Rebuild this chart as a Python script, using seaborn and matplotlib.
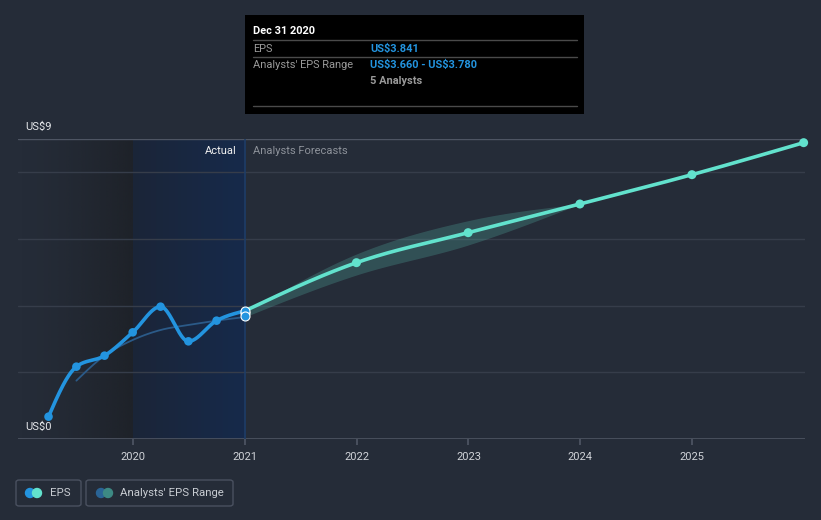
import numpy as np
import pandas as pd
import matplotlib
matplotlib.use("Agg")
import matplotlib.pyplot as plt
import matplotlib.dates as mdates
from matplotlib.patches import Rectangle, FancyBboxPatch, Circle
import seaborn as sns

# ---------------- data ----------------
actual_dates = ["2019-03-31", "2019-06-30", "2019-09-30", "2019-12-31",
                "2020-03-31", "2020-06-30", "2020-09-30", "2020-12-31"]
actual_eps = [0.67, 2.17, 2.50, 3.20, 3.97, 2.93, 3.55, 3.841]

past_est_dates = ["2019-06-30", "2019-09-30", "2019-12-31", "2020-03-31",
                  "2020-06-30", "2020-09-30", "2020-12-31"]
past_est_eps = [1.75, 2.50, 2.97, 3.27, 3.42, 3.55, 3.66]

forecast_dates = ["2020-12-31", "2021-12-31", "2022-12-31", "2023-12-31",
                  "2024-12-31", "2025-12-31"]
forecast_eps = [3.841, 5.29, 6.19, 7.05, 7.93, 8.89]

range_dates = ["2020-12-31", "2021-12-31", "2022-12-31", "2023-12-31"]
range_low = [3.66, 4.92, 5.82, 7.05]
range_high = [3.78, 5.55, 6.55, 7.05]

year_ticks = [2020, 2021, 2022, 2023, 2024, 2025]
y_labels = {0: "US$0", 9: "US$9"}

# ---------------- style ----------------
BG = "#252c38"
EPS_C = "#2394df"
FC_C = "#62e2cd"
sns.set_theme(style="dark", rc={"axes.facecolor": BG, "figure.facecolor": BG})
plt.rcParams["font.family"] = ["Roboto", "DejaVu Sans"]
plt.rcParams["text.parse_math"] = False

W, H = 821, 520
fig = plt.figure(figsize=(W / 100, H / 100), dpi=100)
fig.patch.set_facecolor(BG)


def fx(x):
    return x / W


def fy(y):
    return 1 - y / H


ax = fig.add_axes([fx(18), fy(439), fx(805) - fx(18), fy(139) - fy(439)])
ax.set_facecolor(BG)


def dn(s):
    return mdates.date2num(pd.to_datetime(s))


def monotone(x, y, n=40):
    x = np.asarray(x, float)
    y = np.asarray(y, float)
    h = np.diff(x)
    s = np.diff(y) / h
    m = np.zeros_like(y)
    for k in range(1, len(y) - 1):
        if s[k - 1] * s[k] <= 0:
            m[k] = 0
        else:
            p = (s[k - 1] * h[k] + s[k] * h[k - 1]) / (h[k - 1] + h[k])
            m[k] = (np.sign(s[k - 1]) + np.sign(s[k])) * min(abs(s[k - 1]), abs(s[k]), 0.5 * abs(p))
    if len(y) > 2:
        m[0] = (3 * s[0] - m[1]) / 2
        m[-1] = (3 * s[-1] - m[-2]) / 2
    else:
        m[0] = m[-1] = s[0]
    xs, ys = [], []
    for k in range(len(h)):
        t = np.linspace(0, 1, n, endpoint=(k == len(h) - 1))
        h00 = 2 * t**3 - 3 * t**2 + 1
        h10 = t**3 - 2 * t**2 + t
        h01 = -2 * t**3 + 3 * t**2
        h11 = t**3 - t**2
        xs.append(x[k] + t * h[k])
        ys.append(h00 * y[k] + h10 * h[k] * m[k] + h01 * y[k + 1] + h11 * h[k] * m[k + 1])
    return np.concatenate(xs), np.concatenate(ys)


x2020 = dn("2020-01-01")
x2021 = dn("2021-01-01")
px_per_day = 111.8 / 365.25
xmin = x2020 - 115 / px_per_day
xmax = x2020 + 672 / px_per_day
ax.set_xlim(xmin, xmax)
ax.set_ylim(0, 9)

# background shading regions
grad = np.linspace(0, 1, 256).reshape(1, -1)
dark = np.zeros((1, 256, 4))
dark[..., 0] = 0x1c / 255
dark[..., 1] = 0x1f / 255
dark[..., 2] = 0x24 / 255
dark[..., 3] = 0.75 * grad ** 1.5
ax.imshow(dark, extent=[xmin, x2020, 0, 9], aspect="auto", zorder=0.5, interpolation="bilinear")
c0 = np.array([0x1b, 0x25, 0x38]) / 255
c1 = np.array([0x16, 0x2a, 0x4b]) / 255
blue = np.zeros((1, 256, 3))
for i in range(3):
    blue[..., i] = c0[i] + (c1[i] - c0[i]) * grad
ax.imshow(blue, extent=[x2020, x2021, 0, 9], aspect="auto", zorder=0.5, interpolation="bilinear")
ax.axvline(x2021, color="#1f3d66", lw=1.2, zorder=1)

# gridlines
for v in [2, 4, 6, 8]:
    ax.axhline(v, color="#363d4a", lw=1, zorder=0.8)
ax.axhline(9, color="#4e5563", lw=1, zorder=0.8)
ax.axhline(0, color="#4e5563", lw=1.2, zorder=0.8)

# forecast band
bx = [dn(d) for d in range_dates]
sx, slo = monotone(bx, range_low)
_, shi = monotone(bx, range_high)
ax.fill_between(sx, slo, shi, color="#5fd3c0", alpha=0.22, lw=0, zorder=2)

# past estimate line (thin)
ex = [dn(d) for d in past_est_dates]
exs, eys = monotone(ex, past_est_eps)
sns.lineplot(x=exs, y=eys, ax=ax, color="#2b5a88", lw=1.3, zorder=3, sort=False, estimator=None)

# actual EPS
axd = [dn(d) for d in actual_dates]
axs, ays = monotone(axd, actual_eps)
sns.lineplot(x=axs, y=ays, ax=ax, color=EPS_C, lw=2.6, zorder=4, sort=False, estimator=None)
sns.scatterplot(x=axd[:-1], y=actual_eps[:-1], ax=ax, color=EPS_C, s=38, edgecolor="none", zorder=5)

# forecast line
fxd = [dn(d) for d in forecast_dates]
fxs, fys = monotone(fxd, forecast_eps)
sns.lineplot(x=fxs, y=fys, ax=ax, color=FC_C, lw=2.6, zorder=4, sort=False, estimator=None)
sns.scatterplot(x=fxd[1:], y=forecast_eps[1:], ax=ax, color=FC_C, s=42, edgecolor="none", zorder=5,
                clip_on=False)

# highlighted markers at Dec 31 2020
sns.scatterplot(x=[axd[-1], axd[-1]], y=[range_high[0], actual_eps[-1]], ax=ax, color=EPS_C, s=42,
                edgecolor="white", linewidth=0.8, zorder=6)
sns.scatterplot(x=[axd[-1]], y=[range_low[0] + 0.04], ax=ax, color=EPS_C, s=42,
                edgecolor="white", linewidth=0.8, zorder=6)

# axes cosmetics
ax.set_xticks([dn(f"{y}-01-01") for y in year_ticks])
ax.set_xticklabels([str(y) for y in year_ticks], color="#d0d3d8", fontsize=8)
ax.tick_params(axis="x", length=4, color="#4e5563", pad=5, bottom=True)
ax.set_yticks([])
ax.grid(False)
for sp in ax.spines.values():
    sp.set_visible(False)
ax.set_xlabel("")
ax.set_ylabel("")

# y labels
for v, lab in y_labels.items():
    fig.text(fx(25), fy(438.9 - v * 33.33 - 12), lab, color="#e6e8eb", fontsize=8, va="center", ha="left")

fig.text(fx(237), fy(151), "Actual", color="#f0f0f0", fontsize=8, ha="right", va="center")
fig.text(fx(253), fy(151), "Analysts Forecasts", color="#8d929a", fontsize=8, ha="left", va="center")

# tooltip
TFS = 7.9
fig.add_artist(Rectangle((fx(245), fy(114)), fx(584) - fx(245), fy(15) - fy(114),
                         transform=fig.transFigure, facecolor="black", edgecolor="none", zorder=10))
for yy in [40, 57, 106]:
    fig.add_artist(plt.Line2D([fx(253), fx(577)], [fy(yy), fy(yy)], transform=fig.transFigure,
                              color="#4a4a4a", lw=1, zorder=11))
fig.text(fx(253), fy(31), "Dec 31 2020", color="white", fontsize=TFS, fontweight="bold", va="center", zorder=12)
fig.text(fx(253), fy(48.5), "EPS", color="#9a9a9a", fontsize=TFS, va="center", zorder=12)
fig.text(fx(370), fy(48.5), "US$3.841", color="#2394df", fontsize=TFS, fontweight="bold", va="center", zorder=12)
fig.text(fx(253), fy(65), "Analysts' EPS Range", color="#9a9a9a", fontsize=TFS, va="center", zorder=12)
fig.text(fx(370), fy(65), "US$3.660 - US$3.780", color="#2394df", fontsize=TFS, fontweight="bold",
         va="center", zorder=12)
fig.text(fx(370), fy(81.5), "5 Analysts", color="#9a9a9a", fontsize=TFS, fontweight="bold", va="center", zorder=12)

# legend
for (x0, x1) in [(16, 81), (86, 233)]:
    fig.add_artist(FancyBboxPatch((fx(x0), fy(506)), fx(x1) - fx(x0), fy(480) - fy(506),
                                  boxstyle="round,pad=0,rounding_size=0.004", transform=fig.transFigure,
                                  facecolor="none", edgecolor="#4a5160", lw=1))
legend_items = [(30, 37, EPS_C, FC_C, 50, "EPS"), (101, 108, "#2a6496", "#3d8a84", 120, "Analysts' EPS Range")]
for (c1x, c2x, col1, col2, tx, lab) in legend_items:
    ax_l = fig.add_axes([fx(c1x - 6), fy(499), fx(c2x + 6) - fx(c1x - 6), fy(487) - fy(499)])
    ax_l.set_xlim(c1x - 6, c2x + 6)
    ax_l.set_ylim(-6, 6)
    ax_l.set_aspect("equal")
    ax_l.axis("off")
    ax_l.add_patch(Circle((c1x, 0), 4.5, color=col1))
    ax_l.add_patch(Circle((c2x, 0), 4.5, color=col2))
    fig.text(fx(tx), fy(493), lab, color="#c8ccd2", fontsize=8.2, va="center", ha="left")

fig.savefig("out.png", dpi=100, facecolor=BG)
